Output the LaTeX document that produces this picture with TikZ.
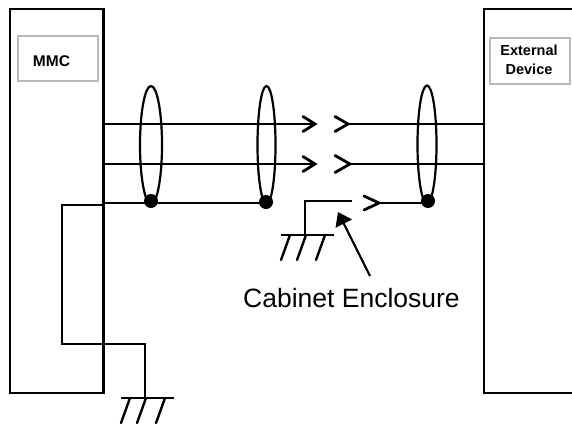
\documentclass[tikz,border=0pt]{standalone}
\usepackage{fontspec}
\setmainfont{Liberation Sans}
\usetikzlibrary{arrows.meta,shapes.geometric}
\tikzset{
  wire/.style={draw=black,line width=2.1pt},
  chev/.style={draw=black,line width=2.8pt,line cap=round,line join=miter},
  slash/.style={draw=black,line width=2.4pt,line cap=round},
  unit/.style={draw=black,line width=2.1pt,fill=white,inner sep=0pt},
  tag/.style={draw=black!27,line width=2pt,fill=white,inner sep=0pt,align=center},
  shield/.style={draw=black,line width=2.2pt,ellipse,minimum width=#1,minimum height=118pt,inner sep=0pt},
  dotn/.style={circle,fill=black,minimum size=14pt,inner sep=0pt},
  captext/.style={font=\fontsize{26.5}{30}\selectfont,inner sep=0pt},
  pointer/.style={draw=black,line width=2.1pt,-{Triangle[length=13pt,width=18pt]}}
}
\newcommand{\gnd}[1]{%
  \draw[wire] ([xshift=-24pt]#1) -- ([xshift=29pt]#1);
  \draw[slash] ([xshift=-15pt]#1) -- ([xshift=-24pt,yshift=-25pt]#1);
  \draw[slash] ([xshift=1pt]#1) -- ([xshift=-8pt,yshift=-25pt]#1);
  \draw[slash] ([xshift=20pt]#1) -- ([xshift=11pt,yshift=-25pt]#1);
}
\newcommand{\lchev}[3]{\draw[chev] ([shift={(-#2pt,#3pt)}]#1) -- (#1) -- ([shift={(-#2pt,-#3pt)}]#1);}
\begin{document}
\begin{tikzpicture}[x=1pt,y=-1pt]
\useasboundingbox (0,0) rectangle (572,423);
\fill[white] (0,0) rectangle (572,423);
% units
\node[unit,minimum width=93.5pt,minimum height=384pt] (mmc) at (56.75,201) {};
\draw[line width=2.1pt] (573,9) -- (484,9) -- (484,393) -- (573,393);
\coordinate (devL1) at (484,124);
\coordinate (devL2) at (484,164);
\node[tag,minimum width=80.5pt,minimum height=45.5pt] (mmctag) at (57.75,58.5) {};
\node[font=\bfseries\fontsize{15.5}{18}\selectfont,inner sep=0pt] (mmctxt) at (51.5,61) {MMC};
\node[tag,minimum width=80pt,minimum height=46pt] (devtag) at (530,61) {};
\node[font=\bfseries\fontsize{14.5}{19}\selectfont,inner sep=0pt,align=center] (devtxt) at (529,60) {External\\Device};
% coordinates
\coordinate (m1) at (103.5,124);
\coordinate (m2) at (103.5,164);
\coordinate (m3) at (103.5,203);
\coordinate (t1) at (315,124);
\coordinate (t2) at (315,164);
\coordinate (r1) at (348,124);
\coordinate (r2) at (350,164);
\coordinate (r3) at (379,203);
\coordinate (w1) at (151,203);
\coordinate (w2) at (266,203);
\coordinate (w3) at (428,203);
\coordinate (m4) at (103.5,205);
\coordinate (sw) at (62,205);
\coordinate (swb) at (62,344);
\coordinate (g1c) at (145,344);
\coordinate (g1) at (145,398);
\coordinate (g2) at (305,235);
\coordinate (g2c) at (305,201);
\coordinate (g2e) at (352,201);
% shields
\node[shield=22pt] (e1) at (151,145) {};
\node[shield=18pt] (e2) at (266.5,145) {};
\node[shield=19pt] (e3) at (427,144.5) {};
\node[dotn] (d1) at (151,201) {};
\node[dotn] (d2) at (266,202) {};
\node[dotn] (d3) at (428,201) {};
% wires
\draw[wire] (m1) -- (t1);
\draw[wire] (m2) -- (t2);
\draw[wire] (r1) -- (devL1);
\draw[wire] (r2) -- (devL2);
\draw[wire] (r3) -- (w3);
\draw[wire] (w2) -- (w1) -- (m3);
\draw[wire] (m4) -- (sw) -- (swb) -- (g1c) -- (g1);
\draw[wire] (g2) -- (g2c) -- (g2e);
\lchev{t1}{12}{7.5}\lchev{t2}{12}{7.5}\lchev{r1}{13}{7.5}\lchev{r2}{15}{8.5}\lchev{r3}{15}{7}
\gnd{g1}
\gnd{g2}
% label
\node[captext] (lab) at (351.5,298) {Cabinet Enclosure};
\coordinate (tip) at (338,212);
\draw[pointer] (370,276) -- (tip);
\end{tikzpicture}
\end{document}
